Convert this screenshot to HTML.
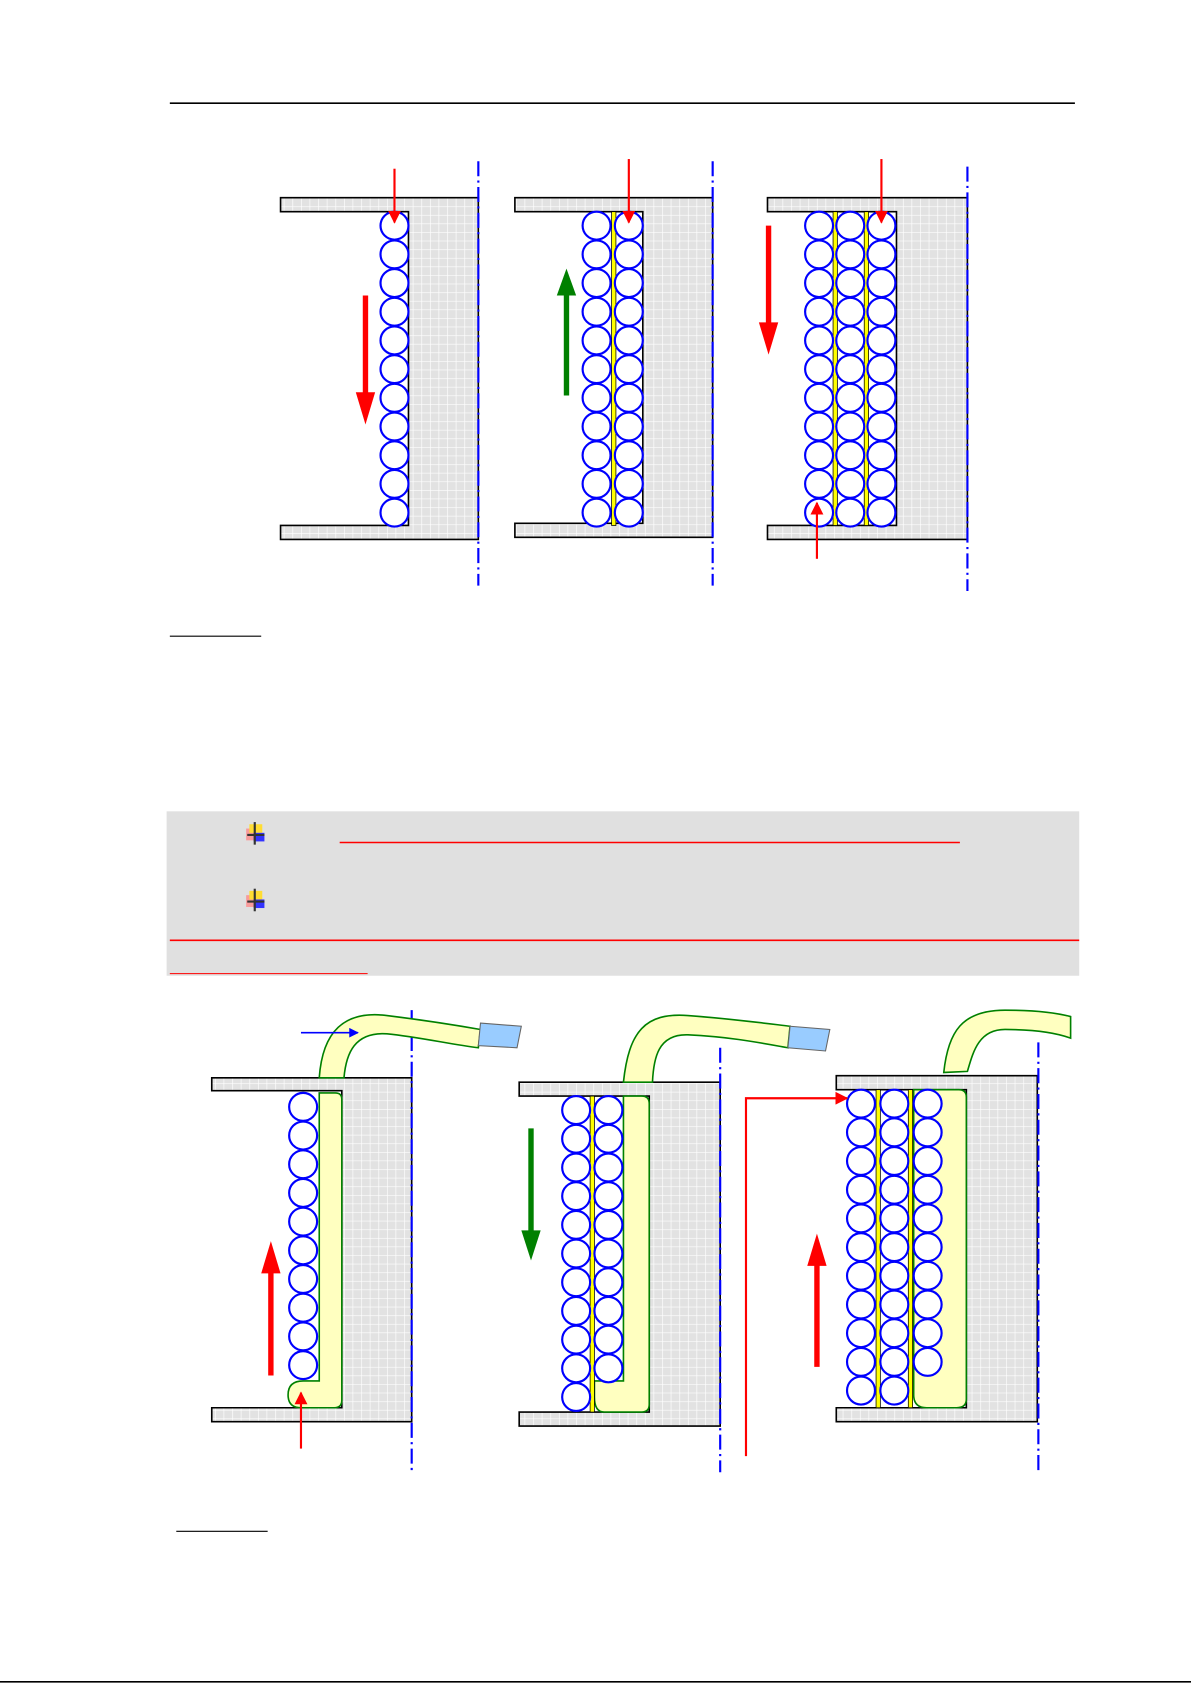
<!DOCTYPE html>
<html><head><meta charset="utf-8"><style>html,body{margin:0;padding:0;background:#fff}svg{display:block}</style></head><body>
<svg width="1191" height="1685" viewBox="0 0 1108 1568" preserveAspectRatio="none" xmlns="http://www.w3.org/2000/svg">
<defs>
<pattern id="g" width="8" height="8" patternUnits="userSpaceOnUse"><rect width="8" height="8" fill="#e2e2e2"/><path d="M0 0H8M0 0V8" stroke="#fff" stroke-width="1.2"/></pattern>
<marker id="ar" viewBox="0 0 10 10" refX="9" refY="5" markerWidth="6" markerHeight="6" orient="auto-start-reverse"><path d="M0 0L10 5L0 10z" fill="red"/></marker>
<marker id="ab" viewBox="0 0 10 10" refX="9" refY="5" markerWidth="6" markerHeight="6" orient="auto"><path d="M0 0L10 5L0 10z" fill="blue"/></marker>
<g id="k11" fill="#fff" stroke="blue" stroke-width="2">
<circle cx="0" cy="0" r="13"/><circle cx="0" cy="26.7" r="13"/><circle cx="0" cy="53.4" r="13"/><circle cx="0" cy="80.1" r="13"/><circle cx="0" cy="106.8" r="13"/><circle cx="0" cy="133.5" r="13"/><circle cx="0" cy="160.2" r="13"/><circle cx="0" cy="186.9" r="13"/><circle cx="0" cy="213.6" r="13"/><circle cx="0" cy="240.3" r="13"/><circle cx="0" cy="267" r="13"/>
</g>
<g id="k10" fill="#fff" stroke="blue" stroke-width="2">
<circle cx="0" cy="0" r="13"/><circle cx="0" cy="26.7" r="13"/><circle cx="0" cy="53.4" r="13"/><circle cx="0" cy="80.1" r="13"/><circle cx="0" cy="106.8" r="13"/><circle cx="0" cy="133.5" r="13"/><circle cx="0" cy="160.2" r="13"/><circle cx="0" cy="186.9" r="13"/><circle cx="0" cy="213.6" r="13"/><circle cx="0" cy="240.3" r="13"/>
</g>
<g id="ic"><rect x="229" y="771" width="8" height="11" fill="#f88" opacity=".8"/><rect x="232" y="767" width="12" height="8" fill="#fd3"/><rect x="236" y="775" width="10" height="8" fill="#33f"/><line x1="237" y1="765" x2="237" y2="786" stroke="#333" stroke-width="2"/><line x1="230" y1="777" x2="246" y2="777" stroke="#333" stroke-width="2"/></g>
</defs>
<line x1="158" y1="96" x2="1000" y2="96" stroke="#000" stroke-width="1.5"/>
<g stroke="#000" stroke-width="1.5">
<path d="M261 184H445V502H261V489H380V197H261Z" fill="url(#g)"/>
<path d="M479 184H663V500H479V487H598V197H479Z" fill="url(#g)"/>
<path d="M714 184H900V502H714V489H834V197H714Z" fill="url(#g)"/>
</g>
<g stroke="blue" stroke-width="2" stroke-dasharray="14,4,2,4"><line x1="445" y1="150" x2="445" y2="545"/><line x1="663" y1="150" x2="663" y2="545"/><line x1="900" y1="155" x2="900" y2="550"/></g>
<rect x="569" y="197" width="4" height="292" fill="#ff0" stroke="#000" stroke-width=".7"/>
<rect x="775" y="197" width="4" height="292" fill="#ff0" stroke="#000" stroke-width=".7"/>
<rect x="804" y="197" width="4" height="292" fill="#ff0" stroke="#000" stroke-width=".7"/>
<use href="#k11" x="367" y="210"/>
<use href="#k11" x="555" y="210"/><use href="#k11" x="585" y="210"/>
<use href="#k11" x="762" y="210"/><use href="#k11" x="791" y="210"/><use href="#k11" x="820" y="210"/>
<g stroke="red" stroke-width="2" fill="none" marker-end="url(#ar)"><line x1="367" y1="157" x2="367" y2="207"/><line x1="585" y1="148" x2="585" y2="207"/><line x1="820" y1="148" x2="820" y2="207"/><line x1="760" y1="520" x2="760" y2="468"/></g>
<g stroke="red" stroke-width="5"><line x1="340" y1="275" x2="340" y2="370"/><line x1="715" y1="210" x2="715" y2="305"/></g>
<path d="M331 365L340 395L349 365Z" fill="red"/><path d="M706 300L715 330L724 300Z" fill="red"/>
<line x1="527" y1="368" x2="527" y2="270" stroke="green" stroke-width="5"/><path d="M518 275L527 250L536 275Z" fill="green"/>
<line x1="158" y1="592" x2="243" y2="592" stroke="#000"/>
<rect x="155" y="755" width="849" height="153" fill="#e0e0e0"/>
<g stroke="red"><line x1="316" y1="784" x2="893" y2="784" stroke-width="1.5"/><line x1="158" y1="875" x2="1004" y2="875" stroke-width="1.5"/><line x1="158" y1="906" x2="342" y2="906"/></g>
<use href="#ic"/><use href="#ic" y="62"/>
<g stroke="#000" stroke-width="1.5">
<path d="M197 1003H383V1323H197V1310H318V1015H197Z" fill="url(#g)"/>
<path d="M483 1007H670V1327H483V1314H604V1020H483Z" fill="url(#g)"/>
<path d="M778 1001H965V1323H778V1310H899V1014H778Z" fill="url(#g)"/>
</g>
<g stroke="blue" stroke-width="2" stroke-dasharray="14,4,2,4"><line x1="383" y1="940" x2="383" y2="1368"/><line x1="670" y1="975" x2="670" y2="1370"/><line x1="966" y1="970" x2="966" y2="1370"/></g>
<g fill="#ffffc0" stroke="green" stroke-width="1.5">
<path d="M297 1003C300 960 320 940 360 945C400 950 430 955 447 958L445 975C420 972 390 965 360 962C330 960 322 980 320 1003Z"/>
<path d="M580 1007C585 960 600 942 640 945C680 948 710 952 735 955L733 975C705 970 680 965 640 963C612 962 608 985 607 1007Z"/>
<path d="M878 998C882 960 895 940 935 940C965 940 985 943 996 946L996 966C985 962 965 958 935 958C910 958 905 980 900 997Z"/>
<path d="M297 1017H312Q318 1017 318 1023V1303Q318 1310 311 1310H280Q268 1310 268 1298Q268 1285 282 1285H297Z"/>
<path d="M580 1020H597Q604 1020 604 1027V1307Q604 1314 597 1314H562Q553 1314 553 1300V1285H580Z"/>
<path d="M850 1014H892Q899 1014 899 1021V1302Q899 1310 890 1310H862Q850 1310 850 1298Z"/>
</g>
<path d="M447 952L485 955L481 975L445 973Z" fill="#9cf" stroke="#666"/>
<path d="M735 955L772 958L768 978L733 975Z" fill="#9cf" stroke="#666"/>
<rect x="549" y="1020" width="4" height="294" fill="#ff0" stroke="#000" stroke-width=".7"/>
<rect x="815" y="1014" width="4" height="296" fill="#ff0" stroke="#000" stroke-width=".7"/>
<rect x="845" y="1014" width="4" height="296" fill="#ff0" stroke="#000" stroke-width=".7"/>
<use href="#k10" x="282" y="1030"/>
<use href="#k11" x="536" y="1033"/><use href="#k10" x="566" y="1033"/>
<use href="#k11" x="801" y="1027"/><use href="#k11" x="832" y="1027"/><use href="#k10" x="863" y="1027"/>
<line x1="280" y1="961" x2="333" y2="961" stroke="blue" stroke-width="1.5" marker-end="url(#ab)"/>
<g stroke="red" stroke-width="2" fill="none" marker-end="url(#ar)"><line x1="280" y1="1348" x2="280" y2="1296"/><path d="M694 1355V1022H788"/></g>
<g stroke="red" stroke-width="5"><line x1="252" y1="1280" x2="252" y2="1180"/><line x1="760" y1="1272" x2="760" y2="1170"/></g>
<path d="M243 1185L252 1155L261 1185Z" fill="red"/><path d="M751 1178L760 1148L769 1178Z" fill="red"/>
<line x1="494" y1="1050" x2="494" y2="1150" stroke="green" stroke-width="5"/><path d="M485 1145L494 1173L503 1145Z" fill="green"/>
<line x1="164" y1="1425" x2="249" y2="1425" stroke="#000"/>
<line x1="0" y1="1565" x2="1108" y2="1565" stroke="#000" stroke-width="1.5"/>
</svg>
</body></html>
